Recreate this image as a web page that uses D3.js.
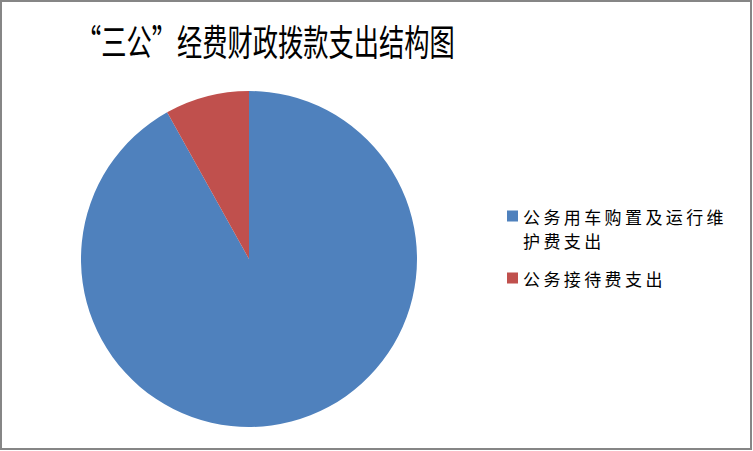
<!DOCTYPE html>
<html>
<head>
<meta charset="utf-8">
<script src="https://cdn.jsdelivr.net/npm/d3@7/dist/d3.min.js"></script>
<style>
  html, body { margin: 0; padding: 0; background: #fff; }
  svg { display: block; }
</style>
</head>
<body>
<svg id="chart" width="753" height="451"></svg>
<script>
// chart data
var categories = ["公务用车购置及运行维护费支出", "公务接待费支出"];
var legendLines = [["公务用车购置及运行维", "护费支出"], ["公务接待费支出"]];
var values = [91.9, 8.1];
var colors = ["#4f81bd", "#c0504d"];
var title = "“三公”经费财政拨款支出结构图";

var svg = d3.select("#chart"),
    width = +svg.attr("width"),
    height = +svg.attr("height");

// outer frame
svg.append("rect")
  .attr("x", 1).attr("y", 1)
  .attr("width", width - 3).attr("height", height - 3)
  .attr("fill", "#fff")
  .attr("stroke", "#868686")
  .attr("stroke-width", 2);

// title, squeezed sideways to the width it takes in the original
var titleText = svg.append("text")
  .attr("x", 0)
  .attr("y", 0)
  .attr("dominant-baseline", "central")
  .style("font-family", "'Noto Sans CJK SC', sans-serif")
  .style("font-size", "36px")
  .style("fill", "#000")
  .text(title);
var tw = titleText.node().getComputedTextLength();
titleText.attr("transform", "translate(76,40) scale(" + (379 / tw) + ",1)");

// pie
var cx = 249, cy = 259, radius = 168;
var pie = d3.pie().sort(null).value(function(d) { return d; });
var arc = d3.arc().innerRadius(0).outerRadius(radius);

svg.append("g")
  .attr("transform", "translate(" + cx + "," + cy + ")")
  .selectAll("path")
  .data(pie(values))
  .enter()
  .append("path")
  .attr("d", arc)
  .attr("fill", function(d, i) { return colors[i]; });

// legend
var legendY = [216, 278];
var legend = svg.append("g").attr("class", "legend");
categories.forEach(function(c, i) {
  legend.append("rect")
    .attr("x", 507).attr("y", legendY[i] - 5.5)
    .attr("width", 11).attr("height", 11)
    .attr("fill", colors[i]);
  legendLines[i].forEach(function(line, j) {
    legend.append("text")
      .attr("x", 523)
      .attr("y", legendY[i] + j * 24)
      .attr("dominant-baseline", "central")
      .style("font-family", "'Noto Sans CJK SC', sans-serif")
      .style("font-size", "17px")
      .style("letter-spacing", "3.4px")
      .style("fill", "#000")
      .text(line);
  });
});
</script>
</body>
</html>
